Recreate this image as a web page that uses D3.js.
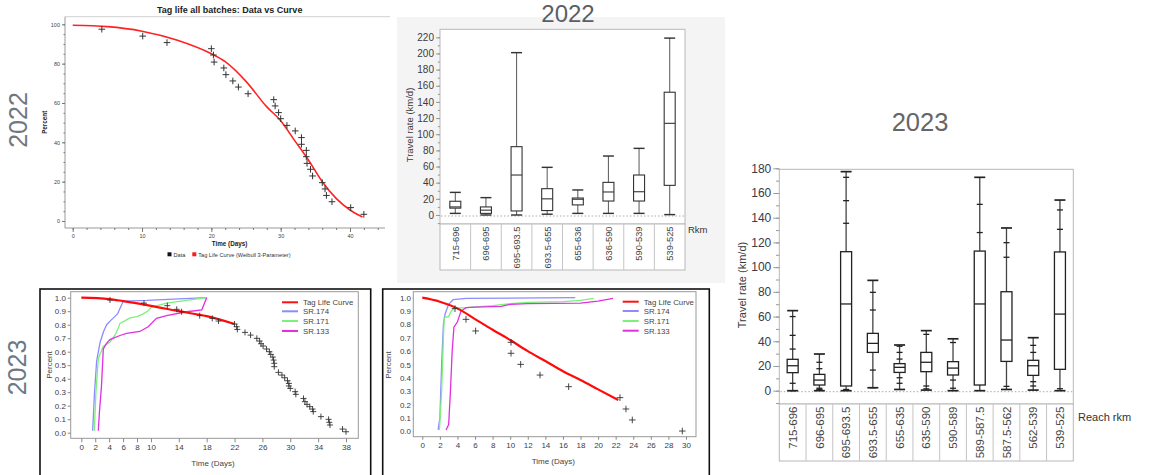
<!DOCTYPE html>
<html><head><meta charset="utf-8">
<script src="https://cdn.jsdelivr.net/npm/d3@7"></script>
<style>body{margin:0;background:#fff}svg{display:block}text{font-family:"Liberation Sans",Arial,sans-serif}</style>
</head><body><svg id="chart" width="1149" height="475"></svg>
<script>
// ---------- Panel A: 2022 tag life (data vs Weibull curve) ----------
const tagDays22 = [4.2,10.1,13.6,20.0,20.3,20.4,21.8,22.1,23.1,23.9,25.3,29.0,29.2,29.7,30.0,30.9,32.1,33.0,33.0,33.7,33.7,33.8,34.3,34.6,36.0,36.4,36.6,37.4,40.1,42.0];
const tagPct22 = [97.5,94,90.7,87.6,84.4,80.8,77.8,74.4,71.2,68.1,64.7,61.7,58.5,55.1,52.0,48.6,45.8,42.4,39,35.9,32.7,29.3,26.3,22.9,19.5,16.3,13,9.8,6.8,3.4];
const curveDays22 = [0,5,10,15,20,22,25,28,30,32,34,36,38,40,41.8];
const curvePct22 = [99.5,98.8,96.5,92,85,81,71,58,51,41,31,20,11.5,5.6,2];
const xTicksA = [0,10,20,30,40];
const yTicksA = [0,20,40,60,80,100];

// ---------- Panel B: 2022 travel rate box plots ----------
const reach22 = ["715-696","696-695","695-693.5","693.5-655","655-636","636-590","590-539","539-525"];
const min22 = [2,0,0,1,2,2,2,0.5];
const q1_22 = [8.5,2,5,5.5,12.5,17.3,17.3,36.7];
const med22 = [10,6,49.5,20,19.5,28.5,28.8,113.5];
const q3_22 = [17,10,84.6,32.6,21,40.4,49.5,152];
const max22 = [28,21.5,201,59,31,73,82.5,219];
const yTicksB = [0,20,40,60,80,100,120,140,160,180,200,220];

// ---------- Panel C: 2023 travel rate box plots ----------
const reach23 = ["715-696","696-695","695-693.5","693.5-655","655-635","635-590","590-589","589-587.5","587.5-562","562-539","539-525"];
const min23 = [0,0,0,2.4,1,0.5,0,0,1,0.5,0];
const q1_23 = [14.6,4.6,3.8,31,14.8,15.4,12.7,4.6,23.7,12.4,17.3];
const med23 = [20.2,8.6,70.2,38.3,18.9,23,18.3,70.2,41,20.2,62];
const q3_23 = [25.4,13.2,112.5,46.4,21.9,31,23.5,113,80.1,24.6,112.3];
const max23 = [64.8,29.7,177.3,89.3,37,48.6,42,172.7,131.7,42.9,154.3];
const pts23 = [[60,44.8,33.7,6,0],[17.8,23,2,1,0.5],[172.7,153.8,135.5,1],[79.6,65.3,16.7,2.4],[36,31,25.6,10.5,6],[45.6,3.8,1.5],[39,8.6,2],[150.8,128],[119.8,108,3.5],[36.7,31,7.3,3.8],[146.3,130.6,1.6]];
const yTicksC = [0,20,40,60,80,100,120,140,160,180];

// ---------- Panel D: 2023 tag life + SR curves (left) ----------
const dCurveDays = [0,4,6,10,14,18,22];
const dCurvePct = [1.0,0.99,0.975,0.94,0.9,0.863,0.805];
const dDataDays = [4.12,9.0,12.35,13.7,14.4,17.0,18.8,19.7,22.0,22.3,22.4,23.5,24.3,25.2,25.6,25.8,26.1,26.6,27.0,27.2,27.5,27.6,27.7,27.7,28.3,28.8,29.2,29.6,29.8,29.8,30.0,30.7,30.8,31.9,32.1,32.4,32.8,33.2,33.3,34.4,35.5,35.6,35.7,37.5,38.0];
const dDataPct = [0.983,0.960,0.941,0.914,0.896,0.867,0.847,0.827,0.805,0.785,0.765,0.743,0.723,0.699,0.679,0.659,0.642,0.620,0.600,0.580,0.560,0.538,0.514,0.489,0.447,0.427,0.407,0.385,0.365,0.346,0.328,0.304,0.284,0.254,0.230,0.210,0.193,0.175,0.156,0.119,0.099,0.077,0.057,0.027,0.007];
const dSR174Days = [1.63,1.9,2.2,2.7,3.2,3.64,4.2,4.8,5.2,5.55,6.03,9.4,13.2,18];
const dSR174Pct = [0.015,0.3,0.53,0.67,0.75,0.8,0.83,0.86,0.88,0.92,0.975,0.98,0.99,1.0];
const dSR171Days = [1.87,2.1,2.44,3.16,4.1,4.8,5.2,5.55,6.3,7.0,8.0,8.9,9.5,10.1,12.25,15.1,18];
const dSR171Pct = [0.015,0.3,0.55,0.64,0.67,0.72,0.76,0.81,0.83,0.85,0.86,0.88,0.9,0.93,0.96,0.98,1.0];
const dSR133Days = [2.44,2.6,2.9,3.16,3.6,4.1,5.55,6.5,8.4,9.6,10.8,12.25,15.1,17.3,18];
const dSR133Pct = [0.015,0.15,0.35,0.62,0.66,0.69,0.72,0.735,0.75,0.785,0.847,0.867,0.896,0.91,1.0];
const dXTicks = [0,2,4,6,8,10,14,18,22,26,30,34,38];

// ---------- Panel E: 2023 tag life + SR curves (right) ----------
const eCurveDays = [0,2,4,6,8,10,12,14,16,18,20,22.3];
const eCurvePct = [1.0,0.97,0.92,0.84,0.76,0.683,0.60,0.526,0.45,0.384,0.314,0.234];
const eDataDays = [3.72,4.97,6.07,10.09,10.09,11.19,13.39,16.65,22.49,23.17,23.89,29.58];
const eDataPct = [0.918,0.838,0.751,0.666,0.584,0.501,0.421,0.334,0.252,0.167,0.085,0.002];
const eSR174Days = [1.8,2.0,2.2,2.4,2.6,3.0,3.5,5,17.4];
const eSR174Pct = [0.01,0.1,0.5,0.8,0.88,0.95,0.985,0.995,1.0];
const eSR171Days = [1.95,2.2,2.4,2.5,3.0,3.3,3.6,5,8,10,12,16,18,19.5];
const eSR171Pct = [0.01,0.3,0.7,0.85,0.86,0.9,0.92,0.925,0.94,0.955,0.965,0.97,0.98,0.995];
const eSR133Days = [2.7,3.0,3.2,3.4,3.6,4.0,4.4,5,6,9,10,12,18,20,21.7];
const eSR133Pct = [0.01,0.05,0.3,0.6,0.78,0.82,0.9,0.925,0.93,0.935,0.95,0.955,0.96,0.975,0.995];
const eXTicks = [0,2,4,6,8,10,12,14,16,18,20,22,24,26,28,30];

const pctTicks = [0,0.1,0.2,0.3,0.4,0.5,0.6,0.7,0.8,0.9,1.0];
const legendNames = ["Tag Life Curve","SR.174","SR.171","SR.133"];
const legendColors = ["#ff1010","#8c8cff","#7cf07c","#e030e0"];

const svg = d3.select("#chart");
svg.append("rect").attr("width",1149).attr("height",475).attr("fill","#fff");

const zip = (a,b) => a.map((v,i)=>[v,b[i]]);
const crossPath = s => `M${-s},0H${s}M0,${-s}V${s}`;

// Big year labels
svg.append("text").attr("transform","translate(26.5,120) rotate(-90)").attr("text-anchor","middle")
  .attr("font-size",25).attr("fill","#6f7880").text("2022");
svg.append("text").attr("transform","translate(25.5,367.5) rotate(-90)").attr("text-anchor","middle")
  .attr("font-size",25).attr("fill","#6f7880").text("2023");

// ================= Panel A =================
{
  const g = svg.append("g");
  const x = d3.scaleLinear().domain([0,40]).range([72.7,350]);
  const y = d3.scaleLinear().domain([0,100]).range([221,24.3]);
  g.append("text").attr("x",229.7).attr("y",13).attr("text-anchor","middle").attr("font-size",9)
    .attr("font-weight","bold").attr("fill","#222").text("Tag life all batches: Data vs Curve");
  g.append("line").attr("x1",65).attr("x2",390).attr("y1",16.7).attr("y2",16.7).attr("stroke","#d0d0d0");
  g.append("line").attr("x1",65).attr("x2",65).attr("y1",16.7).attr("y2",228).attr("stroke","#999");
  g.append("line").attr("x1",65).attr("x2",385).attr("y1",228).attr("y2",228).attr("stroke","#999");
  const xa = g.append("g").attr("transform","translate(0,228)")
    .call(d3.axisBottom(x).tickValues(xTicksA).tickSize(4).tickPadding(2.5));
  const xm = g.append("g").attr("transform","translate(0,228)")
    .call(d3.axisBottom(x).tickValues(d3.range(0,45,2)).tickSize(2).tickFormat(""));
  const ya = g.append("g").attr("transform","translate(65,0)")
    .call(d3.axisLeft(y).tickValues(yTicksA).tickSize(3).tickPadding(2));
  const ym = g.append("g").attr("transform","translate(65,0)")
    .call(d3.axisLeft(y).tickValues(d3.range(0,101,5)).tickSize(1.5).tickFormat(""));
  [xa,xm,ya,ym].forEach(a=>{a.select(".domain").remove();a.selectAll("line").attr("stroke","#777");
    a.selectAll("text").attr("font-size",5.5).attr("fill","#444");});
  g.append("text").attr("x",229.5).attr("y",246.3).attr("text-anchor","middle").attr("font-size",6.3)
    .attr("font-weight","bold").attr("fill","#222").text("Time (Days)");
  g.append("text").attr("transform","translate(47,122.3) rotate(-90)").attr("text-anchor","middle")
    .attr("font-size",6.3).attr("font-weight","bold").attr("fill","#222").text("Percent");
  const line = d3.line().x(d=>x(d[0])).y(d=>y(d[1])).curve(d3.curveMonotoneX);
  g.append("path").datum(zip(curveDays22,curvePct22)).attr("d",line).attr("fill","none")
    .attr("stroke","#ff2222").attr("stroke-width",1.6);
  g.selectAll(".cr").data(zip(tagDays22,tagPct22)).join("path")
    .attr("transform",d=>`translate(${x(d[0])},${y(d[1])})`).attr("d",crossPath(3.3))
    .attr("stroke","#333").attr("stroke-width",1).attr("fill","none");
  // legend
  g.append("rect").attr("x",167.5).attr("y",252.3).attr("width",4).attr("height",4).attr("fill","#111");
  g.append("text").attr("x",173.5).attr("y",256.5).attr("font-size",5.6).attr("fill","#333").text("Data");
  g.append("rect").attr("x",192.3).attr("y",252.3).attr("width",4).attr("height",4).attr("fill","#ff1a1a");
  g.append("text").attr("x",198.3).attr("y",256.5).attr("font-size",5.6).attr("fill","#333").text("Tag Life Curve (Weibull 3-Parameter)");
}

// ================= Box plot helper =================
function boxPanel(o) {
  const g = svg.append("g");
  const x = d3.scaleBand().domain(o.cats).range([o.x0,o.x1]);
  const y = d3.scaleLinear().domain([0,o.ymaxTick]).range([o.y0px,o.ytopPx]);
  g.append("rect").attr("x",o.x0).attr("y",o.fTop).attr("width",o.x1-o.x0).attr("height",o.fBot-o.fTop)
    .attr("fill","#fff").attr("stroke","#b8b8b8");
  // category strip
  g.append("rect").attr("x",o.x0).attr("y",o.fBot).attr("width",o.x1-o.x0).attr("height",o.catBot-o.fBot)
    .attr("fill","#fff").attr("stroke","#b8b8b8");
  o.cats.forEach((cat,i)=>{ if(i>0) g.append("line").attr("x1",x(cat)).attr("x2",x(cat)).attr("y1",o.fBot).attr("y2",o.catBot).attr("stroke","#c4c4c4"); });
  g.selectAll(".cl").data(o.cats).join("text")
    .attr("transform",d=>`translate(${x(d)+x.bandwidth()/2+o.catFont*0.36},${o.fBot+2.5}) rotate(-90)`)
    .attr("text-anchor","end").attr("font-size",o.catFont).attr("fill","#444").text(d=>d);
  // axis
  const ya = g.append("g").attr("transform",`translate(${o.x0},0)`)
    .call(d3.axisLeft(y).tickValues(o.yTicks).tickSize(o.tick).tickPadding(2));
  const ym = g.append("g").attr("transform",`translate(${o.x0},0)`)
    .call(d3.axisLeft(y).tickValues(d3.range(-10,o.ymaxTick+1,10)).tickSize(o.tick*0.55).tickFormat(""));
  [ya,ym].forEach(a=>{a.select(".domain").remove();a.selectAll("line").attr("stroke","#999");
    a.selectAll("text").attr("font-size",o.tickFont).attr("fill","#3a3a48");});
  // zero dotted line
  g.append("line").attr("x1",o.x0+1).attr("x2",o.x1-1).attr("y1",y(0)+1).attr("y2",y(0)+1)
    .attr("stroke","#aaa").attr("stroke-dasharray","1.5,2");
  const bw = o.bw;
  o.cats.forEach((cat,i)=>{
    const cx = x(cat)+x.bandwidth()/2;
    const gb = g.append("g").attr("stroke",o.stroke).attr("stroke-width",o.sw).attr("fill","none");
    gb.append("line").attr("x1",cx).attr("x2",cx).attr("y1",y(o.max[i])).attr("y2",y(o.q3[i])).attr("stroke",o.whisk);
    gb.append("line").attr("x1",cx).attr("x2",cx).attr("y1",y(o.q1[i])).attr("y2",y(o.min[i])).attr("stroke",o.whisk);
    gb.append("line").attr("x1",cx-bw/2).attr("x2",cx+bw/2).attr("y1",y(o.max[i])).attr("y2",y(o.max[i])).attr("stroke-width",o.sw*1.3);
    gb.append("line").attr("x1",cx-bw/2).attr("x2",cx+bw/2).attr("y1",y(o.min[i])).attr("y2",y(o.min[i])).attr("stroke-width",o.sw*1.3);
    gb.append("rect").attr("x",cx-bw/2).attr("y",y(o.q3[i])).attr("width",bw).attr("height",y(o.q1[i])-y(o.q3[i]));
    gb.append("line").attr("x1",cx-bw/2).attr("x2",cx+bw/2).attr("y1",y(o.med[i])).attr("y2",y(o.med[i]));
    if (o.pts) o.pts[i].forEach(v=>{
      gb.append("line").attr("x1",cx-3).attr("x2",cx+3).attr("y1",y(v)).attr("y2",y(v)).attr("stroke","#222").attr("stroke-width",1.3);
    });
  });
  return {g,x,y};
}

// ================= Panel B =================
svg.append("rect").attr("x",397).attr("y",17).attr("width",328).attr("height",266).attr("fill","#f4f4f4");
svg.append("text").attr("x",568).attr("y",21.7).attr("text-anchor","middle").attr("font-size",24)
  .attr("fill","#5a5f66").text("2022");
{
  const r = boxPanel({cats:reach22,min:min22,q1:q1_22,med:med22,q3:q3_22,max:max22,
    x0:440,x1:685,ymaxTick:220,y0px:215,ytopPx:37.3,fTop:29.3,fBot:224,catBot:270,
    yTicks:yTicksB,tick:4,tickFont:10,catFont:9.3,bw:11,stroke:"#333",whisk:"#666",sw:1.1});
  r.g.append("text").attr("transform","translate(412.5,125) rotate(-90)").attr("text-anchor","middle")
    .attr("font-size",9.5).attr("fill","#3a3a3a").text("Travel rate (km/d)");
  r.g.append("text").attr("x",688).attr("y",233).attr("font-size",9.5).attr("fill","#333").text("Rkm");
}

// ================= Panel C =================
svg.append("text").attr("x",920).attr("y",130.7).attr("text-anchor","middle").attr("font-size",25.5)
  .attr("fill","#666").text("2023");
{
  const r = boxPanel({cats:reach23,min:min23,q1:q1_23,med:med23,q3:q3_23,max:max23,pts:pts23,
    x0:779.3,x1:1073.3,ymaxTick:180,y0px:390.7,ytopPx:168.3,fTop:169.3,fBot:404,catBot:461,
    yTicks:yTicksC,tick:6,tickFont:12,catFont:11.5,bw:11,stroke:"#222",whisk:"#444",sw:1.3});
  r.g.append("text").attr("transform","translate(745.5,285) rotate(-90)").attr("text-anchor","middle")
    .attr("font-size",11).attr("fill","#3a3a3a").text("Travel rate (km/d)");
  r.g.append("text").attr("x",1078).attr("y",420.7).attr("font-size",11).attr("fill","#333").text("Reach rkm");
}

// ================= Survival panels =================
function survPanel(o) {
  const g = svg.append("g");
  g.append("rect").attr("x",o.ox0).attr("y",289).attr("width",o.ox1-o.ox0).attr("height",200)
    .attr("fill","none").attr("stroke","#111").attr("stroke-width",1.6);
  g.append("rect").attr("x",o.px0).attr("y",291.7).attr("width",o.px1-o.px0).attr("height",o.pBot-291.7)
    .attr("fill","none").attr("stroke","#999");
  const x = d3.scaleLinear().domain([0,o.xmax]).range([o.xr0,o.xr1]);
  const y = d3.scaleLinear().domain([0,1]).range([o.yr0,297.7]);
  const xa = g.append("g").attr("transform",`translate(0,${o.pBot})`)
    .call(d3.axisBottom(x).tickValues(o.xTicks).tickSize(o.xtick).tickPadding(2.5).tickFormat(d3.format("d")));
  const ya = g.append("g").attr("transform",`translate(${o.px0},0)`)
    .call(d3.axisLeft(y).tickValues(pctTicks).tickSize(o.ytick).tickPadding(1.8).tickFormat(d3.format(".1f")));
  [xa,ya].forEach(a=>{a.select(".domain").remove();a.selectAll("line").attr("stroke","#888");
    a.selectAll("text").attr("font-size",8).attr("fill","#3c3c4a");});
  g.append("text").attr("x",o.tx).attr("y",o.ty).attr("text-anchor","middle").attr("font-size",8)
    .attr("fill","#444").text("Time (Days)");
  g.append("text").attr("transform",`translate(${o.px},365) rotate(-90)`).attr("text-anchor","middle")
    .attr("font-size",8).attr("fill","#444").text("Percent");
  const line = d3.line().x(d=>x(d[0])).y(d=>y(d[1]));
  o.sr.forEach((s,i)=>{
    g.append("path").datum(zip(s[0],s[1])).attr("d",line).attr("fill","none")
      .attr("stroke",legendColors[i+1]).attr("stroke-width",1.3);
  });
  g.append("path").datum(zip(o.cDays,o.cPct)).attr("d",line.curve(d3.curveMonotoneX)).attr("fill","none")
    .attr("stroke","#ff0a0a").attr("stroke-width",2.2);
  g.selectAll(".cr").data(zip(o.dDays,o.dPct)).join("path")
    .attr("transform",d=>`translate(${x(d[0])},${y(d[1])})`).attr("d",crossPath(o.cs))
    .attr("stroke","#333").attr("stroke-width",0.9).attr("fill","none");
  legendNames.forEach((n,i)=>{
    const ly = o.ly[i];
    g.append("line").attr("x1",o.lx).attr("x2",o.lx+16).attr("y1",ly).attr("y2",ly)
      .attr("stroke",legendColors[i]).attr("stroke-width",2);
    g.append("text").attr("x",o.lx+21).attr("y",ly+2.8).attr("font-size",7.8).attr("fill","#444").text(n);
  });
}

survPanel({ox0:40,ox1:370.7,px0:70.7,px1:358.3,pBot:438.3,xmax:38,xr0:81.3,xr1:346,yr0:432.7,
  xTicks:dXTicks,xtick:4,ytick:3,tx:213,ty:465.5,px:51.5,
  cDays:dCurveDays,cPct:dCurvePct,dDays:dDataDays,dPct:dDataPct,
  sr:[[dSR174Days,dSR174Pct],[dSR171Days,dSR171Pct],[dSR133Days,dSR133Pct]],
  cs:3,lx:282,ly:[302.3,311.3,321,331]});

survPanel({ox0:382.7,ox1:709.3,px0:413.3,px1:696,pBot:436.7,xmax:30,xr0:422.3,xr1:686,yr0:431.3,
  xTicks:eXTicks,xtick:3,ytick:0.5,tx:553.3,ty:463.5,px:391,
  cDays:eCurveDays,cPct:eCurvePct,dDays:eDataDays,dPct:eDataPct,
  sr:[[eSR174Days,eSR174Pct],[eSR171Days,eSR171Pct],[eSR133Days,eSR133Pct]],
  cs:3.3,lx:622.7,ly:[301.7,311,321,330.7]});
</script>
</body></html>
